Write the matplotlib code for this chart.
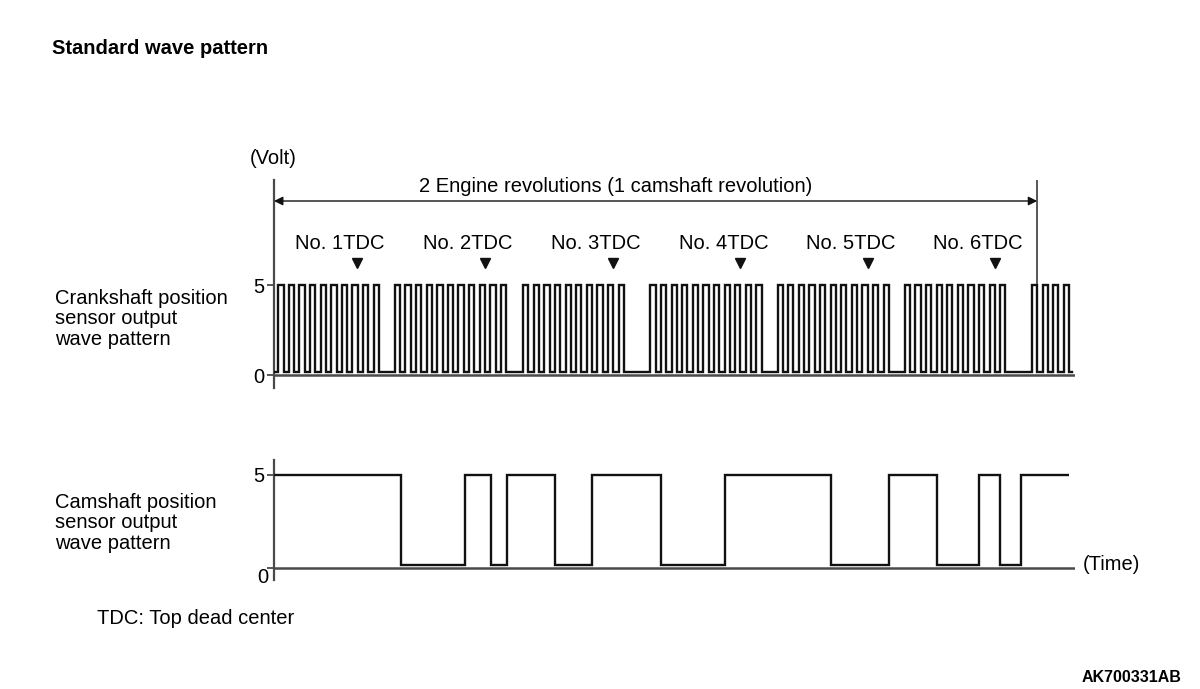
import matplotlib
matplotlib.use("Agg")
import matplotlib.pyplot as plt

plt.rcParams['font.family'] = ['Liberation Sans', 'DejaVu Sans']

# ---- data (time axis in crank degrees) ----
crank_group_start = [4, 114, 235, 355, 475, 595, 715]
crank_group_pulses = [10, 11, 10, 11, 11, 10, 4]
crank_period = 10.0
crank_high_width = 5.0
crank_end = 753
crank_high, crank_low = 5.0, 0.15

cam_edges = [0, 120, 180, 205, 220, 265, 300, 365, 425, 525, 580, 625, 665, 685, 705, 750]
cam_levels = [5, 0.17, 5, 0.17, 5, 0.17, 5, 0.17, 5, 0.17, 5, 0.17, 5, 0.17, 5]

tdc_labels = ["No. 1TDC", "No. 2TDC", "No. 3TDC", "No. 4TDC", "No. 5TDC", "No. 6TDC"]
tdc_positions = [78, 199, 320, 440, 560, 680]
revolution_span = [0, 720]
y_ticks = [0, 5]

W, H = 1200, 689
fig = plt.figure(figsize=(12, 6.89), dpi=100)
def fx(px): return px / W
def fy(py): return 1 - py / H

AXC = '#4a4a4a'
LC = '#111111'
FS = 14.5
xmax = (1075 - 274) / 1.06

def setup(ax):
    for s in ['top', 'right', 'bottom']:
        ax.spines[s].set_visible(False)
    ax.spines['left'].set_color(AXC)
    ax.spines['left'].set_linewidth(1.6)
    ax.axhline(0, color=AXC, lw=1.8, zorder=1)
    ax.set_xlim(0, xmax)
    ax.set_xticks([])
    ax.set_yticks(y_ticks)
    ax.tick_params(axis='y', length=5, width=1.3, color=AXC, labelsize=FS, pad=2)
    ax.patch.set_alpha(0)

# crankshaft axes
axc = fig.add_axes([fx(274), fy(388), fx(1075) - fx(274), fy(180) - fy(388)])
setup(axc)
axc.set_ylim(-(388 - 375) / 18, (375 - 180) / 18)
xs, ys = [0], [crank_low]
for start, n in zip(crank_group_start, crank_group_pulses):
    for k in range(n):
        r = start + k * crank_period
        f = r + crank_high_width
        xs += [r, r, f, f]
        ys += [crank_low, crank_high, crank_high, crank_low]
xs.append(crank_end); ys.append(crank_low)
axc.plot(xs, ys, color=LC, lw=1.7, solid_joinstyle='miter', zorder=3)

# TDC markers and labels
for lab, pos in zip(tdc_labels, tdc_positions):
    axc.plot([pos], [6.25], marker='v', color=LC, markersize=7, zorder=3)
    axc.text(pos - 16, 7.3, lab, ha='center', va='center', fontsize=FS)

# revolution dimension
yv = (375 - 201) / 18
axc.annotate('', xy=(revolution_span[0], yv), xytext=(revolution_span[1], yv),
             arrowprops=dict(arrowstyle='<|-|>', color=LC, lw=1.0,
                             mutation_scale=13, shrinkA=0, shrinkB=0))
axc.plot([revolution_span[1]] * 2, [(375 - 283) / 18, (375 - 180) / 18], color=AXC, lw=1.3)
axc.text(sum(revolution_span) / 2 - 38, (375 - 186) / 18,
         '2 Engine revolutions (1 camshaft revolution)', ha='center', va='center', fontsize=FS)

# camshaft axes
axm = fig.add_axes([fx(274), fy(580), fx(1075) - fx(274), fy(460) - fy(580)])
setup(axm)
axm.set_ylim(-(580 - 568) / 18.6, (568 - 460) / 18.6)
axm.set_yticklabels(['', '5'])
axm.stairs(cam_levels, cam_edges, baseline=None, color=LC, lw=1.7, zorder=3)
axm.text(-5, -0.5, '0', ha='right', va='center', fontsize=FS)

# figure texts
fig.text(fx(52), fy(48), 'Standard wave pattern', fontsize=FS, fontweight='bold', va='center')
fig.text(fx(250), fy(158), '(Volt)', fontsize=FS, va='center')
fig.text(fx(55), fy(319), 'Crankshaft position\nsensor output\nwave pattern', fontsize=FS,
         va='center', linespacing=1.13)
fig.text(fx(55), fy(523), 'Camshaft position\nsensor output\nwave pattern', fontsize=FS,
         va='center', linespacing=1.13)
fig.text(fx(1083), fy(565), '(Time)', fontsize=FS, va='center')
fig.text(fx(97), fy(619), 'TDC: Top dead center', fontsize=FS, va='center')
fig.text(fx(1181), fy(678), 'AK700331AB', fontsize=11.5, fontweight='bold', va='center', ha='right')

fig.savefig('out.png', dpi=100)
